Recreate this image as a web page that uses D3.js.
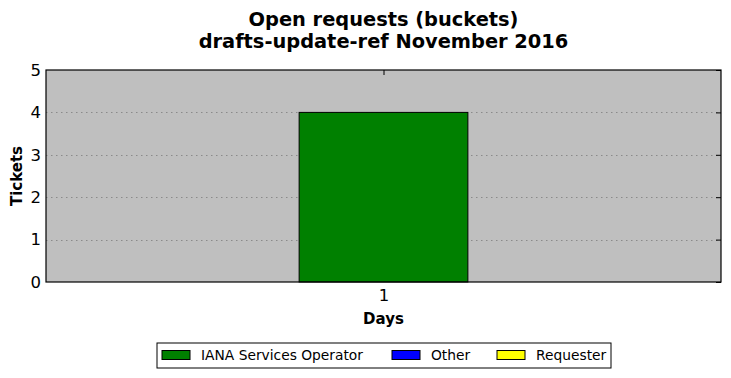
<!DOCTYPE html>
<html lang="en">
<head>
<meta charset="UTF-8">
<title>Open requests (buckets)</title>
<script src="https://d3js.org/d3.v7.min.js"></script>
<style>
  body { margin: 0; background: #fff; }
  text { font-family: "DejaVu Sans", sans-serif; }
</style>
</head>
<body>
<div id="chart"></div>
<script>
// data
const days = [1];
const series = ["IANA Services Operator", "Other", "Requester"];
const colors = ["#008000", "#0000ff", "#ffff00"];
const values = {
  "IANA Services Operator": [4],
  "Other": [0],
  "Requester": [0]
};
const yTicks = [0, 1, 2, 3, 4, 5];

const width = 731, height = 378;
const margin = { top: 70, right: 10, bottom: 96, left: 46 };
const iw = width - margin.left - margin.right;
const ih = height - margin.top - margin.bottom;

const svg = d3.select("#chart").append("svg")
  .attr("width", width).attr("height", height);

// title
const title = svg.append("text")
  .attr("x", margin.left + iw / 2).attr("text-anchor", "middle")
  .style("font-size", "19.4px").style("font-weight", "bold");
title.append("tspan").attr("x", margin.left + iw / 2).attr("y", 26).text("Open requests (buckets)");
title.append("tspan").attr("x", margin.left + iw / 2).attr("y", 48).text("drafts-update-ref November 2016");

const g = svg.append("g").attr("transform", `translate(${margin.left},${margin.top})`);

const x = d3.scaleLinear().domain([0, 2]).range([0, iw]);
const y = d3.scaleLinear().domain([0, 5]).range([ih, 0]);
const barW = 0.5;

g.append("rect").attr("width", iw).attr("height", ih).attr("fill", "#bfbfbf");

// grid
g.selectAll(".grid").data(yTicks.slice(1, -1)).join("line")
  .attr("x1", 0).attr("x2", iw)
  .attr("y1", d => Math.round(y(d)) + 0.5).attr("y2", d => Math.round(y(d)) + 0.5)
  .attr("stroke", "#8a8a8a").attr("stroke-dasharray", "1.5,3.5").attr("stroke-width", 1);

// axes (ticks inward, mirrored)
const yAxisL = d3.axisLeft(y).tickValues(yTicks).tickSize(0).tickPadding(5).tickFormat(d3.format("d"));
const yAxisR = d3.axisRight(y).tickValues(yTicks).tickSize(-5).tickFormat("");
const xAxisB = d3.axisBottom(x).tickValues(days).tickSize(0).tickPadding(7).tickFormat(d3.format("d"));
const xAxisT = d3.axisTop(x).tickValues(days).tickSize(-5).tickFormat("");

function style(sel) {
  sel.select(".domain").remove();
  sel.selectAll("line").attr("stroke", "#000");
  sel.selectAll("text").style("font-size", "16.5px").attr("fill", "#000");
}
g.append("g").call(yAxisL).call(style);
g.append("g").attr("transform", `translate(${iw},0)`).call(yAxisR).call(style);
g.append("g").attr("transform", `translate(0,${ih})`).call(xAxisB).call(style);
g.append("g").call(xAxisT).call(style);

// bars (stacked)
let base = days.map(() => 0);
series.forEach((s, si) => {
  const vals = values[s];
  g.selectAll(".bar" + si).data(days).join("rect")
    .filter((d, i) => vals[i] > 0)
    .attr("x", d => x(d - barW / 2))
    .attr("width", x(barW) - x(0))
    .attr("y", (d, i) => y(base[i] + vals[i]))
    .attr("height", (d, i) => y(base[i]) - y(base[i] + vals[i]))
    .attr("fill", colors[si]).attr("stroke", "#000").attr("stroke-width", 1);
  base = base.map((b, i) => b + vals[i]);
});

g.append("rect").attr("width", iw).attr("height", ih)
  .attr("fill", "none").attr("stroke", "#000").attr("stroke-width", 1.2);

// axis labels
svg.append("text").attr("x", margin.left + iw / 2).attr("y", 324)
  .attr("text-anchor", "middle").style("font-size", "15px").style("font-weight", "bold").text("Days");
svg.append("text").attr("transform", `translate(22,${margin.top + ih / 2}) rotate(-90)`)
  .attr("text-anchor", "middle").style("font-size", "15px").style("font-weight", "bold").text("Tickets");

// legend
const leg = svg.append("g").attr("transform", "translate(157,343)");
leg.append("rect").attr("width", 454).attr("height", 25)
  .attr("fill", "#fff").attr("stroke", "#000").attr("stroke-width", 1);
const legX = [5, 235, 340];
series.forEach((s, i) => {
  const it = leg.append("g").attr("transform", `translate(${legX[i]},0)`);
  it.append("rect").attr("x", 0).attr("y", 7.5).attr("width", 28).attr("height", 9)
    .attr("fill", colors[i]).attr("stroke", "#000");
  it.append("text").attr("x", 39).attr("y", 17).style("font-size", "13.8px").text(s);
});
</script>
</body>
</html>
